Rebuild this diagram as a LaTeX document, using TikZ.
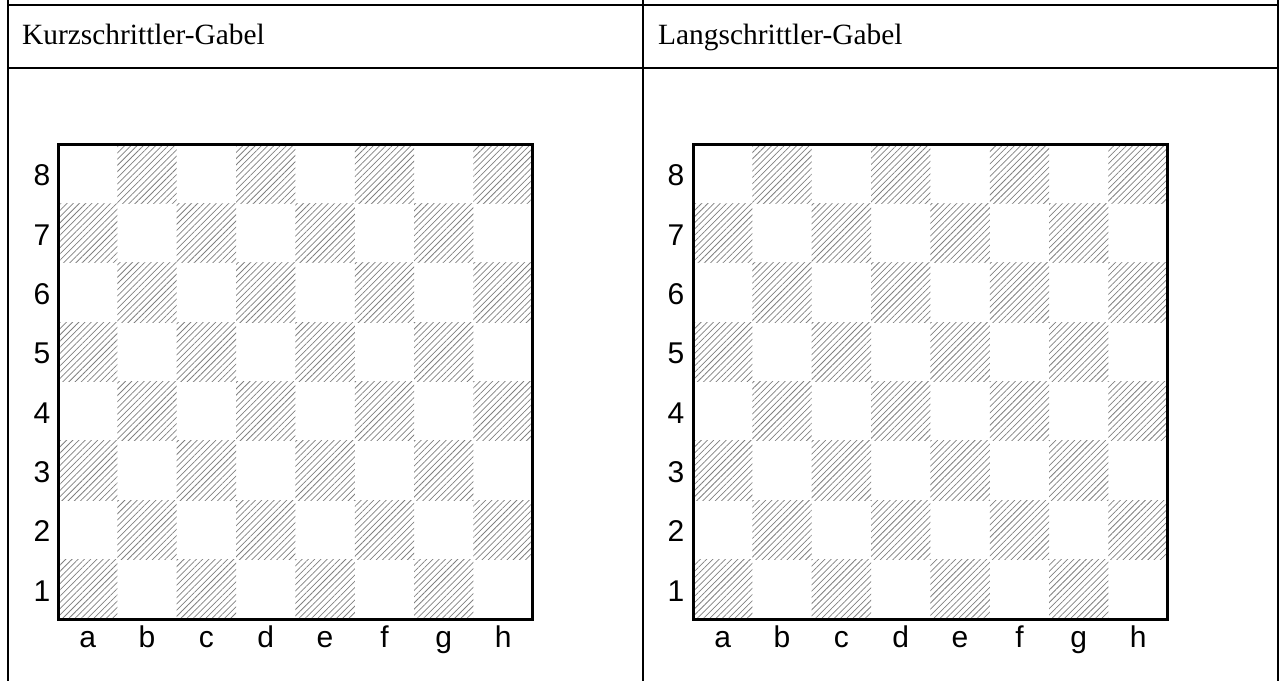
\documentclass[tikz,border=0pt]{standalone}
\usepackage{fontspec}
\setmainfont{Liberation Serif}
\newfontfamily\labfont{Liberation Sans}
\usetikzlibrary{patterns.meta}
\begin{document}
\begin{tikzpicture}[x=1pt,y=1pt,
  rule/.style={line width=2pt,black},
  hatch/.style={pattern={Lines[angle=45,distance=4.4pt,line width=0.75pt]},pattern color=black!50},
  frame/.style={line width=3pt,black},
  head/.style={font=\fontsize{29.4}{34}\selectfont,anchor=base west,inner sep=0pt},
  coordlab/.style={font=\labfont\fontsize{30}{34}\selectfont,inner sep=0pt}]
\useasboundingbox (0,0) rectangle (1282,681);
% table
\draw[rule] (7,676) -- (1279,676);
\draw[rule] (7,613) -- (1279,613);
\draw[rule] (8,681) -- (8,0);
\draw[rule] (643,681) -- (643,0);
\draw[rule] (1278,681) -- (1278,0);
\node[head] (h1) at (22,636) {Kurzschrittler-Gabel};
\node[head] (h2) at (658,636) {Langschrittler-Gabel};
% boards
\foreach \bx/\lx/\nm in {58/42/A, 693/676/B}{
  \pgfmathsetmacro{\s}{59.35}
  \foreach \c in {0,...,7}{
    \foreach \r in {0,...,7}{
      \pgfmathtruncatemacro{\parity}{mod(\c+\r,2)}
      \ifnum\parity=0
        \fill[hatch] (\bx+\c*\s,62+\r*\s) rectangle ++(\s,\s);
      \fi
    }
  }
  \draw[frame] (\bx,62) rectangle ++(474.8,474);
  \foreach \r in {1,...,8}{
    \node[coordlab] (r\nm\r) at (\lx,62+\r*\s-0.5*\s-1.5) {\r};
  }
  \foreach \f [count=\i from 0] in {a,b,c,d,e,f,g,h}{
    \node[coordlab,anchor=base] (f\nm\f) at (\bx+\i*\s+0.5*\s,34) {\f};
  }
}
\end{tikzpicture}
\end{document}
